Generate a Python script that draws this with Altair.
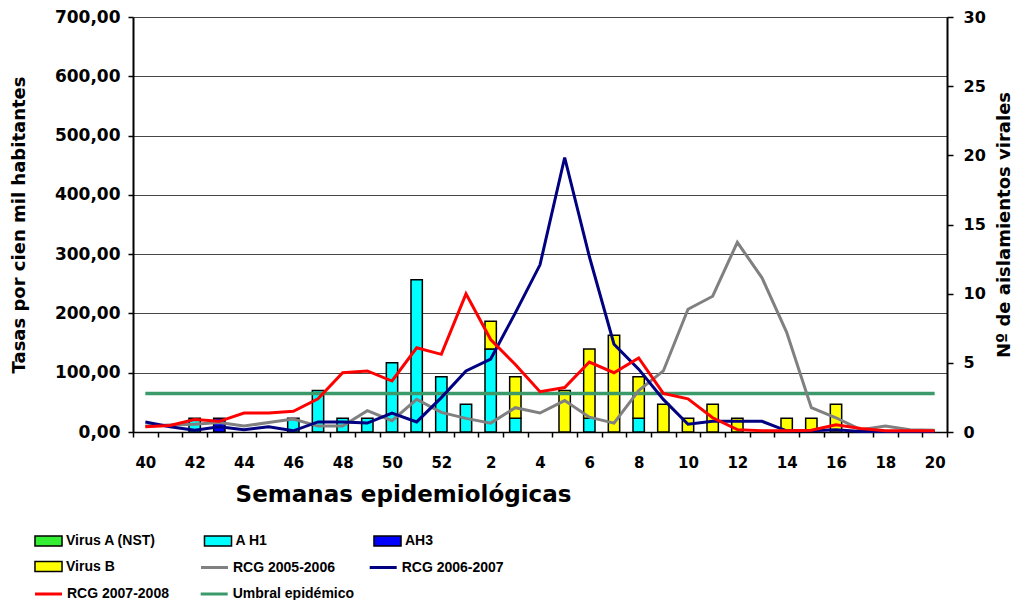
import altair as alt
import pandas as pd

weeks = ["40", "41", "42", "43", "44", "45", "46", "47", "48", "49", "50", "51", "52",
         "1", "2", "3", "4", "5", "6", "7", "8", "9", "10", "11", "12", "13", "14",
         "15", "16", "17", "18", "19", "20"]

virus_a_nst = [0] * 33
a_h1 = [0, 0, 1, 0, 0, 0, 1, 3, 1, 1, 5, 11, 4,
        2, 6, 1, 0, 0, 1, 0, 1, 0, 0, 0, 0, 0, 0, 0, 0, 0, 0, 0, 0]
ah3 = [0, 0, 0, 1, 0, 0, 0, 0, 0, 0, 0, 0, 0,
       0, 0, 0, 0, 0, 0, 0, 0, 0, 0, 0, 0, 0, 0, 0, 0, 0, 0, 0, 0]
virus_b = [0, 0, 0, 0, 0, 0, 0, 0, 0, 0, 0, 0, 0,
           0, 2, 3, 0, 3, 5, 7, 3, 2, 1, 2, 1, 0, 1, 1, 2, 0, 0, 0, 0]

rcg_0506 = [10, 12, 13, 16, 10, 16, 22, 10, 10, 36, 19, 55, 33,
            23, 15, 41, 32, 53, 25, 15, 70, 103, 207, 229, 320, 260, 168, 41, 24, 4, 10, 4, 3]
rcg_0607 = [17, 9, 3, 9, 4, 9, 2, 17, 17, 15, 32, 17, 58,
            103, 123, 201, 282, 463, 296, 148, 106, 55, 13, 18, 18, 18, 2, 2, 4, 1, 1, 1, 1]
rcg_0708 = [9, 11, 21, 18, 32, 32, 35, 56, 100, 103, 86, 142, 131,
            233, 156, 114, 68, 75, 118, 100, 125, 65, 56, 24, 4, 2, 2, 3, 12, 6, 2, 2, 2]
umbral = [65] * 33

bar_names = ["Virus A (NST)", "A H1", "AH3", "Virus B"]
bar_colors = ["#33ee33", "#00ffff", "#0000ff", "#ffff00"]
bar_legend_values = ["Virus A (NST)", "AH3", "A H1", "Virus B"]
grey_names = ["RCG 2005-2006", "RCG 2006-2007"]
grey_colors = ["#808080", "#000080"]
red_names = ["RCG 2007-2008", "Umbral epidémico"]
red_colors = ["#ff0000", "#3a9a6a"]

bar_rows = []
for name, vals, order in [("Virus A (NST)", virus_a_nst, 0), ("A H1", a_h1, 1),
                          ("AH3", ah3, 2), ("Virus B", virus_b, 3)]:
    for w, v in zip(weeks, vals):
        if v > 0:
            bar_rows.append({"semana": w, "serie": name, "n": v, "orden": order})
bars_df = pd.DataFrame(bar_rows)


def long(name, vals):
    return pd.DataFrame({"semana": weeks, "serie": name, "tasa": vals})


grey_df = pd.concat([long("RCG 2005-2006", rcg_0506), long("RCG 2006-2007", rcg_0607)])
red_df = long("RCG 2007-2008", rcg_0708)
umbral_df = long("Umbral epidémico", umbral)

BOLD = "DejaVu Sans"
LEG_FONT = "Liberation Sans"

legend_common = dict(title=None, orient="none", labelFont=LEG_FONT, labelFontWeight="bold",
                     labelFontSize=14, labelColor="black", padding=0)

bar_legend = alt.Legend(
    values=bar_legend_values,
    legendX=-93.5, legendY=515, columns=3, gridAlign="all", columnPadding=44.5,
    rowPadding=8.5, symbolSize=256, symbolType="M-1.69,-0.62H1.69V0.62H-1.69Z",
    symbolStrokeColor="black", symbolStrokeWidth=1.5, symbolOpacity=1,
    labelOffset=8.5, **legend_common)
grey_legend = alt.Legend(
    values=grey_names,
    legendX=66.5, legendY=535.5, columns=2, gridAlign="all", columnPadding=27.7,
    symbolSize=729, symbolType="stroke", symbolStrokeWidth=3, labelOffset=3.5,
    **legend_common)
red_legend = alt.Legend(
    values=red_names,
    legendX=-99.5, legendY=562, columns=2, gridAlign="each", columnPadding=24.7,
    symbolSize=729, symbolType="stroke", symbolStrokeWidth=3, labelOffset=3.5,
    **legend_common)

x_enc = alt.X(
    "semana:N", sort=weeks,
    scale=alt.Scale(domain=weeks, paddingInner=0, paddingOuter=0),
    axis=alt.Axis(
        title="Semanas epidemiológicas", titleFont=BOLD, titleFontWeight="bold",
        titleFontSize=23, titleColor="black", titleX=270, titleY=62,
        titleBaseline="middle", titleAlign="center",
        labelExpr="parseInt(datum.value) % 2 === 0 ? datum.value : ''",
        labelFont=BOLD, labelFontWeight="bold", labelFontSize=15, labelColor="black",
        labelAngle=0, labelPadding=18, labelOverlap=False,
        tickBand="extent", tickSize=5, tickColor="black", tickWidth=1.5,
        domainColor="black", domainWidth=1.5, grid=False,
    ),
)

bars = alt.Chart(bars_df).mark_bar(
    width=alt.RelativeBandSize(0.46), stroke="black", strokeWidth=1.5, opacity=1
).encode(
    x=x_enc,
    y=alt.Y("n:Q", stack="zero",
            scale=alt.Scale(domain=[0, 30], nice=False),
            axis=alt.Axis(
                orient="right", title="Nº de aislamientos virales",
                values=[0, 5, 10, 15, 20, 25, 30],
                titleFont=BOLD, titleFontWeight="bold", titleFontSize=18,
                titleColor="black", titleAngle=270, titleX=57, titleY=207.5,
                titleBaseline="middle", titleAlign="center",
                labelFont=BOLD, labelFontWeight="bold", labelFontSize=16,
                labelColor="black", labelPadding=10, tickSize=6,
                tickColor="black", tickWidth=1.5, domainColor="black",
                domainWidth=2, grid=False,
            )),
    fill=alt.Fill("serie:N", sort=bar_names,
                  scale=alt.Scale(domain=bar_names, range=bar_colors),
                  legend=bar_legend),
    order=alt.Order("orden:Q", sort="ascending"),
)

y_rate_axis = alt.Axis(
    title="Tasas por cien mil habitantes", values=list(range(0, 701, 100)),
    labelExpr="replace(format(datum.value, '.2f'), '.', ',')",
    titleFont=BOLD, titleFontWeight="bold", titleFontSize=18, titleColor="black",
    titleAngle=270, titleX=-113.5, titleY=207.5, titleBaseline="middle",
    titleAlign="center",
    labelFont=BOLD, labelFontWeight="bold", labelFontSize=17, labelColor="black",
    labelPadding=8, tickSize=5, tickColor="black", tickWidth=1.5,
    domainColor="black", domainWidth=2,
    grid=True, gridColor="#474747", gridWidth=1,
)
rate_scale = alt.Scale(domain=[0, 700], nice=False)
red_scale = alt.Scale(domain=red_names, range=red_colors)

umbral_line = alt.Chart(umbral_df).mark_line(strokeWidth=3.5).encode(
    x=alt.X("semana:N", sort=weeks),
    y=alt.Y("tasa:Q", scale=rate_scale, axis=y_rate_axis),
    color=alt.Color("serie:N", sort=red_names, scale=red_scale, legend=red_legend),
)
grey_lines = alt.Chart(grey_df).mark_line(strokeWidth=3).encode(
    x=alt.X("semana:N", sort=weeks),
    y=alt.Y("tasa:Q", scale=rate_scale, axis=y_rate_axis),
    stroke=alt.Stroke("serie:N", sort=grey_names,
                      scale=alt.Scale(domain=grey_names, range=grey_colors),
                      legend=grey_legend),
)
red_line = alt.Chart(red_df).mark_line(strokeWidth=3).encode(
    x=alt.X("semana:N", sort=weeks),
    y=alt.Y("tasa:Q", scale=rate_scale, axis=y_rate_axis),
    color=alt.Color("serie:N", sort=red_names, scale=red_scale, legend=red_legend),
)

lines = alt.layer(umbral_line, grey_lines, red_line)

chart = alt.layer(bars, lines).resolve_scale(y="independent").properties(
    width=814, height=415,
    padding={"left": 125, "top": 9, "right": 66, "bottom": 168},
    autosize=alt.AutoSizeParams(type="none"),
    background="white",
).configure_view(stroke=None)

chart.save("out.html", embed_options={"renderer": "svg", "actions": False})
